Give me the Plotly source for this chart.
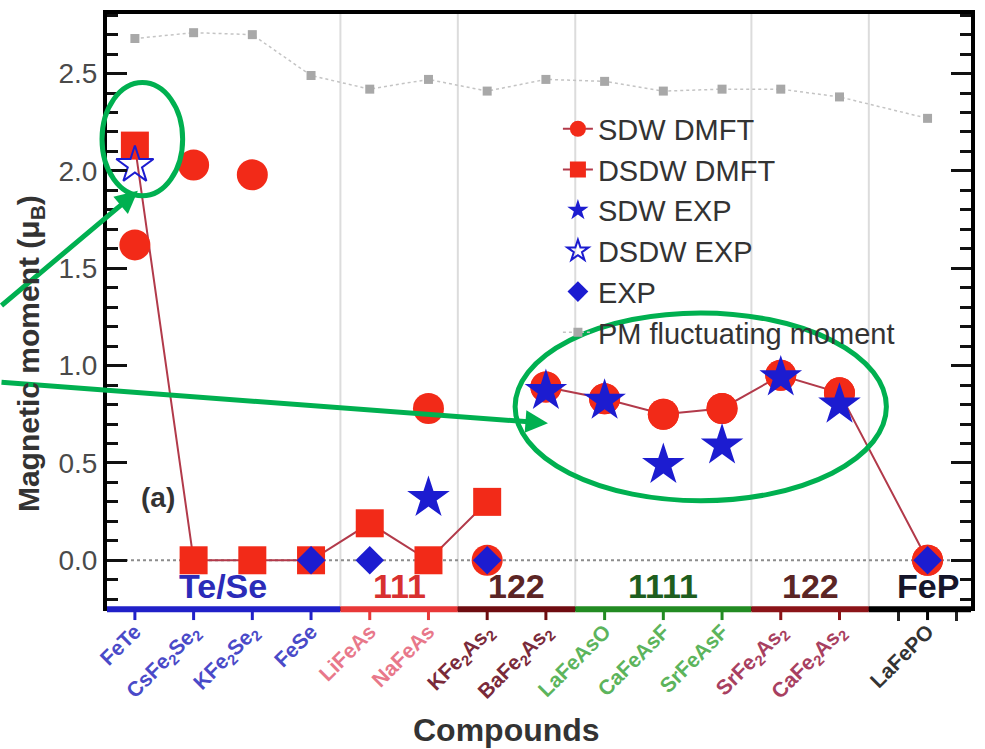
import plotly.graph_objects as go

# ---- data -------------------------------------------------------------
compounds = [
    "FeTe", "CsFe<sub>2</sub>Se<sub>2</sub>", "KFe<sub>2</sub>Se<sub>2</sub>", "FeSe",
    "LiFeAs", "NaFeAs", "KFe<sub>2</sub>As<sub>2</sub>", "BaFe<sub>2</sub>As<sub>2</sub>",
    "LaFeAsO", "CaFeAsF", "SrFeAsF", "SrFe<sub>2</sub>As<sub>2</sub>",
    "CaFe<sub>2</sub>As<sub>2</sub>", "LaFePO",
]
x_pos = [0, 1, 2, 3, 4, 5, 6, 7, 8, 9, 10, 11, 12, 13.5]

group_names = ["Te/Se", "111", "122", "1111", "122", "FeP"]
group_sizes = [4, 2, 2, 3, 2, 1]

sdw_dmft = [1.62, 2.03, 1.98, None, None, 0.78, 0.0, 0.89, 0.83, 0.75, 0.78, 0.95, 0.86, 0.0]
sdw_line_start = 7          # SDW DMFT values are joined from BaFe2As2 onwards
dsdw_dmft = [2.13, 0.0, 0.0, 0.0, 0.19, 0.0, 0.30, None, None, None, None, None, None, None]
sdw_exp = [None, None, None, None, None, 0.32, None, 0.87, 0.82, 0.49, 0.59, 0.94, 0.80, None]
dsdw_exp = [2.03, None, None, None, None, None, None, None, None, None, None, None, None, None]
exp = [None, None, None, 0.0, 0.0, None, 0.0, None, None, None, None, None, None, 0.0]
pm_moment = [2.68, 2.71, 2.70, 2.49, 2.42, 2.47, 2.41, 2.47, 2.46, 2.41, 2.42, 2.42, 2.38, 2.27]

# ---- styling ----------------------------------------------------------
FONT = "Liberation Sans, Arial, sans-serif"
RED = "#f22a18"
RED_LINE = "#b23a4a"
BLUE = "#1c1cd0"
GREEN = "#00b050"

axis_colors = ["#2020c8", "#e83838", "#6e0c10", "#228b22", "#8b1418", "#000000"]
label_colors = ["#4a4ac8", "#e8788a", "#7a2a3a", "#5cb45c", "#a84060", "#333333"]
group_text_colors = ["#2b2bb8", "#d83030", "#5b2525", "#1e5e1e", "#5b2525", "#15152a"]

X_RANGE = [-0.475, 14.24]
Y_RANGE = [-0.24, 2.806]

W, H = 985, 749
M = dict(l=107, r=10, t=10, b=142)
PW = W - M["l"] - M["r"]
PH = H - M["t"] - M["b"]


def xfrac(x):
    return (x - X_RANGE[0]) / (X_RANGE[1] - X_RANGE[0])


def px_x(px):
    return (px - M["l"]) / PW


def px_y(py):
    return (H - M["b"] - py) / PH


# group membership derived from sizes
group_of = []
for gi, n in enumerate(group_sizes):
    group_of += [gi] * n

fig = go.Figure()

# PM fluctuating moment
fig.add_trace(go.Scatter(
    x=x_pos, y=pm_moment, mode="lines+markers", name="PM fluctuating moment",
    line=dict(color="#c4c4c4", width=1.5, dash="dot"),
    marker=dict(symbol="square", size=9, color="#a8a8a8"),
    legendrank=6,
))

# DSDW DMFT
fig.add_trace(go.Scatter(
    x=x_pos, y=dsdw_dmft, mode="lines+markers", name="DSDW DMFT",
    line=dict(color=RED_LINE, width=2),
    marker=dict(symbol="square", size=28, color=RED),
    legendrank=2,
))

# SDW DMFT: joined part (with legend entry) plus the isolated points
sdw_joined = [v if i >= sdw_line_start else None for i, v in enumerate(sdw_dmft)]
fig.add_trace(go.Scatter(
    x=x_pos, y=sdw_joined, mode="lines+markers", name="SDW DMFT",
    line=dict(color=RED_LINE, width=2),
    marker=dict(symbol="circle", size=31, color=RED),
    legendgroup="sdw", legendrank=1,
))
fig.add_trace(go.Scatter(
    x=x_pos, y=sdw_dmft, mode="markers", name="SDW DMFT",
    marker=dict(symbol="circle", size=31, color=RED),
    legendgroup="sdw", showlegend=False,
))

# experiments
fig.add_trace(go.Scatter(
    x=x_pos, y=sdw_exp, mode="markers", name="SDW EXP",
    marker=dict(symbol="star", size=32, color=BLUE),
    legendrank=3,
))
fig.add_trace(go.Scatter(
    x=x_pos, y=dsdw_exp, mode="markers", name="DSDW EXP",
    marker=dict(symbol="star-open", size=28, color=BLUE, line=dict(width=2)),
    legendrank=4,
))
fig.add_trace(go.Scatter(
    x=x_pos, y=exp, mode="markers", name="EXP",
    marker=dict(symbol="diamond", size=22, color=BLUE),
    legendrank=5,
))

shapes = []
annotations = []

# group separators and colored bottom axis segments
start = X_RANGE[0]
idx = 0
for gi, n in enumerate(group_sizes):
    members = x_pos[idx:idx + n]
    end = members[-1] + 0.5 if gi < len(group_sizes) - 1 else X_RANGE[1]
    if gi < len(group_sizes) - 1:
        shapes.append(dict(type="line", xref="paper", yref="paper",
                           x0=xfrac(end), x1=xfrac(end), y0=0, y1=1,
                           line=dict(color="#dcdcdc", width=2), layer="below"))
    shapes.append(dict(type="line", xref="paper", yref="paper",
                       x0=xfrac(start), x1=xfrac(end), y0=-0.004, y1=-0.004,
                       line=dict(color=axis_colors[gi], width=6)))
    annotations.append(dict(
        x=(members[0] + members[-1]) / 2, y=-0.13, xref="x", yref="y",
        text="<b>%s</b>" % group_names[gi], showarrow=False,
        font=dict(family=FONT, size=34, color=group_text_colors[gi]),
        xanchor="center", yanchor="middle",
    ))
    start = end
    idx += n

# colored ticks under each compound
for x, gi in zip(x_pos, group_of):
    shapes.append(dict(type="line", xref="paper", yref="paper",
                       x0=xfrac(x), x1=xfrac(x), y0=-0.004, y1=-0.022,
                       line=dict(color=axis_colors[gi], width=3)))

# zero reference
shapes.append(dict(type="line", xref="paper", yref="y", x0=0, x1=1, y0=0, y1=0,
                   line=dict(color="#8c8c8c", width=2, dash="dot"), layer="below"))

# highlight ellipses and arrows
shapes.append(dict(type="circle", xref="paper", yref="paper",
                   x0=px_x(102), x1=px_x(183), y0=px_y(193), y1=px_y(79),
                   line=dict(color=GREEN, width=5)))
shapes.append(dict(type="circle", xref="paper", yref="paper",
                   x0=px_x(517), x1=px_x(890), y0=px_y(500), y1=px_y(311),
                   line=dict(color=GREEN, width=5)))

for tail, tip in [((-2, 304), (138, 188)), ((-2, 381), (550, 422))]:
    annotations.append(dict(
        x=px_x(tip[0]), y=px_y(tip[1]), xref="paper", yref="paper",
        ax=tail[0] - tip[0], ay=tail[1] - tip[1], axref="pixel", ayref="pixel",
        text="", showarrow=True, arrowhead=2, arrowsize=0.9, arrowwidth=5,
        arrowcolor=GREEN, standoff=0,
    ))

# panel label and axis titles
annotations.append(dict(x=0.39, y=0.32, xref="x", yref="y", text="<b>(a)</b>",
                        showarrow=False, font=dict(family=FONT, size=28, color="#333333")))
annotations.append(dict(x=px_x(30), y=px_y(352), xref="paper", yref="paper",
                        xanchor="center", yanchor="middle",
                        text="<b>Magnetic moment (μ<sub>B</sub>)</b>", textangle=-90,
                        showarrow=False, font=dict(family=FONT, size=30, color="#333333")))
annotations.append(dict(x=px_x(508), y=px_y(731), xref="paper", yref="paper",
                        xanchor="center", yanchor="middle",
                        text="<b>Compounds</b>", showarrow=False,
                        font=dict(family=FONT, size=32, color="#333333")))

tick_text = ['<span style="color:%s">%s</span>' % (label_colors[g], c)
             for c, g in zip(compounds, group_of)]

fig.update_layout(
    width=W, height=H, margin=M,
    paper_bgcolor="white", plot_bgcolor="white",
    font=dict(family=FONT),
    showlegend=True,
    legend=dict(x=px_x(560), y=px_y(100), xanchor="left", yanchor="top",
                bgcolor="rgba(0,0,0,0)", traceorder="normal",
                font=dict(family=FONT, size=29, color="#333333"),
                itemsizing="trace"),
    xaxis=dict(range=X_RANGE, tickmode="array", tickvals=x_pos, ticktext=tick_text,
               tickangle=-45, ticks="", showgrid=False, zeroline=False,
               showline=True, linecolor="black", linewidth=4, mirror=True,
               tickfont=dict(family=FONT, size=21, weight="bold"),
               minor=dict(tickmode="array", tickvals=[13, 14], ticks="outside",
                          ticklen=10, tickwidth=3, tickcolor="#222222")),
    yaxis=dict(range=Y_RANGE, dtick=0.5, tick0=0, tickformat=".1f",
               ticks="inside", ticklen=20, tickwidth=3, tickcolor="#111111",
               showline=True, linecolor="black", linewidth=4, mirror="ticks",
               showgrid=False, zeroline=False,
               tickfont=dict(family=FONT, size=28, color="#4a4a4a"),
               minor=dict(dtick=0.1, ticks="inside", ticklen=11, tickwidth=3,
                          tickcolor="#111111", showgrid=False)),
    shapes=shapes,
    annotations=annotations,
)

fig.write_html("out.html")
